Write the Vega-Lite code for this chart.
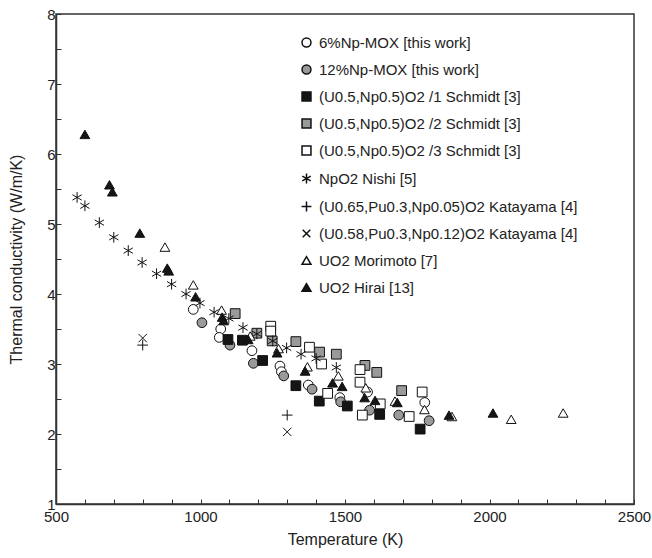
{
  "$schema": "https://vega.github.io/schema/vega-lite/v6.json",
  "width": 578,
  "height": 490,
  "autosize": {"type": "none"},
  "padding": {"left": 56, "top": 14, "right": 18, "bottom": 54},
  "background": "white",
  "config": {
    "font": "Liberation Sans",
    "view": {"stroke": "#333", "strokeWidth": 1.5},
    "axis": {"grid": false, "zindex": 1, "domainColor": "#333", "domainWidth": 1.5, "tickColor": "#333", "tickWidth": 1, "tickSize": -5, "labelColor": "#222", "titleColor": "#222", "labelFontSize": 15, "titleFontSize": 16, "titleFontWeight": "normal"}
  },
  "data": {"values": [
    {"s": "6%Np-MOX [this work]", "T": 975, "k": 3.78},
    {"s": "6%Np-MOX [this work]", "T": 1070, "k": 3.50},
    {"s": "6%Np-MOX [this work]", "T": 1065, "k": 3.38},
    {"s": "6%Np-MOX [this work]", "T": 1178, "k": 3.19},
    {"s": "6%Np-MOX [this work]", "T": 1275, "k": 2.97},
    {"s": "6%Np-MOX [this work]", "T": 1280, "k": 2.89},
    {"s": "6%Np-MOX [this work]", "T": 1373, "k": 2.70},
    {"s": "6%Np-MOX [this work]", "T": 1482, "k": 2.52},
    {"s": "6%Np-MOX [this work]", "T": 1578, "k": 2.60},
    {"s": "6%Np-MOX [this work]", "T": 1776, "k": 2.45},
    {"s": "12%Np-MOX [this work]", "T": 1005, "k": 3.59},
    {"s": "12%Np-MOX [this work]", "T": 1102, "k": 3.27},
    {"s": "12%Np-MOX [this work]", "T": 1183, "k": 3.01},
    {"s": "12%Np-MOX [this work]", "T": 1288, "k": 2.83},
    {"s": "12%Np-MOX [this work]", "T": 1386, "k": 2.64},
    {"s": "12%Np-MOX [this work]", "T": 1485, "k": 2.46},
    {"s": "12%Np-MOX [this work]", "T": 1585, "k": 2.34},
    {"s": "12%Np-MOX [this work]", "T": 1686, "k": 2.27},
    {"s": "12%Np-MOX [this work]", "T": 1791, "k": 2.19},
    {"s": "(U0.5,Np0.5)O2 /1 Schmidt [3]", "T": 1095, "k": 3.35},
    {"s": "(U0.5,Np0.5)O2 /1 Schmidt [3]", "T": 1145, "k": 3.34},
    {"s": "(U0.5,Np0.5)O2 /1 Schmidt [3]", "T": 1215, "k": 3.05},
    {"s": "(U0.5,Np0.5)O2 /1 Schmidt [3]", "T": 1330, "k": 2.69},
    {"s": "(U0.5,Np0.5)O2 /1 Schmidt [3]", "T": 1411, "k": 2.47},
    {"s": "(U0.5,Np0.5)O2 /1 Schmidt [3]", "T": 1508, "k": 2.40},
    {"s": "(U0.5,Np0.5)O2 /1 Schmidt [3]", "T": 1620, "k": 2.28},
    {"s": "(U0.5,Np0.5)O2 /1 Schmidt [3]", "T": 1760, "k": 2.07},
    {"s": "(U0.5,Np0.5)O2 /2 Schmidt [3]", "T": 1120, "k": 3.72},
    {"s": "(U0.5,Np0.5)O2 /2 Schmidt [3]", "T": 1195, "k": 3.44},
    {"s": "(U0.5,Np0.5)O2 /2 Schmidt [3]", "T": 1248, "k": 3.33},
    {"s": "(U0.5,Np0.5)O2 /2 Schmidt [3]", "T": 1330, "k": 3.32},
    {"s": "(U0.5,Np0.5)O2 /2 Schmidt [3]", "T": 1412, "k": 3.17},
    {"s": "(U0.5,Np0.5)O2 /2 Schmidt [3]", "T": 1470, "k": 3.14},
    {"s": "(U0.5,Np0.5)O2 /2 Schmidt [3]", "T": 1569, "k": 2.98},
    {"s": "(U0.5,Np0.5)O2 /2 Schmidt [3]", "T": 1610, "k": 2.88},
    {"s": "(U0.5,Np0.5)O2 /2 Schmidt [3]", "T": 1696, "k": 2.62},
    {"s": "(U0.5,Np0.5)O2 /3 Schmidt [3]", "T": 1243, "k": 3.54},
    {"s": "(U0.5,Np0.5)O2 /3 Schmidt [3]", "T": 1243, "k": 3.47},
    {"s": "(U0.5,Np0.5)O2 /3 Schmidt [3]", "T": 1377, "k": 3.24},
    {"s": "(U0.5,Np0.5)O2 /3 Schmidt [3]", "T": 1419, "k": 3.00},
    {"s": "(U0.5,Np0.5)O2 /3 Schmidt [3]", "T": 1440, "k": 2.58},
    {"s": "(U0.5,Np0.5)O2 /3 Schmidt [3]", "T": 1552, "k": 2.92},
    {"s": "(U0.5,Np0.5)O2 /3 Schmidt [3]", "T": 1552, "k": 2.74},
    {"s": "(U0.5,Np0.5)O2 /3 Schmidt [3]", "T": 1560, "k": 2.27},
    {"s": "(U0.5,Np0.5)O2 /3 Schmidt [3]", "T": 1622, "k": 2.43},
    {"s": "(U0.5,Np0.5)O2 /3 Schmidt [3]", "T": 1722, "k": 2.25},
    {"s": "(U0.5,Np0.5)O2 /3 Schmidt [3]", "T": 1767, "k": 2.60},
    {"s": "NpO2 Nishi [5]", "T": 573, "k": 5.38},
    {"s": "NpO2 Nishi [5]", "T": 600, "k": 5.26},
    {"s": "NpO2 Nishi [5]", "T": 650, "k": 5.02},
    {"s": "NpO2 Nishi [5]", "T": 700, "k": 4.81},
    {"s": "NpO2 Nishi [5]", "T": 750, "k": 4.62},
    {"s": "NpO2 Nishi [5]", "T": 798, "k": 4.45},
    {"s": "NpO2 Nishi [5]", "T": 848, "k": 4.29},
    {"s": "NpO2 Nishi [5]", "T": 900, "k": 4.14},
    {"s": "NpO2 Nishi [5]", "T": 950, "k": 4.00},
    {"s": "NpO2 Nishi [5]", "T": 998, "k": 3.87},
    {"s": "NpO2 Nishi [5]", "T": 1047, "k": 3.74},
    {"s": "NpO2 Nishi [5]", "T": 1098, "k": 3.65},
    {"s": "NpO2 Nishi [5]", "T": 1147, "k": 3.52},
    {"s": "NpO2 Nishi [5]", "T": 1195, "k": 3.43},
    {"s": "NpO2 Nishi [5]", "T": 1250, "k": 3.33},
    {"s": "NpO2 Nishi [5]", "T": 1298, "k": 3.23},
    {"s": "NpO2 Nishi [5]", "T": 1348, "k": 3.14},
    {"s": "NpO2 Nishi [5]", "T": 1400, "k": 3.08},
    {"s": "NpO2 Nishi [5]", "T": 1470, "k": 2.95},
    {"s": "(U0.65,Pu0.3,Np0.05)O2 Katayama [4]", "T": 800, "k": 3.27},
    {"s": "(U0.65,Pu0.3,Np0.05)O2 Katayama [4]", "T": 1300, "k": 2.27},
    {"s": "(U0.58,Pu0.3,Np0.12)O2 Katayama [4]", "T": 800, "k": 3.37},
    {"s": "(U0.58,Pu0.3,Np0.12)O2 Katayama [4]", "T": 1300, "k": 2.03},
    {"s": "UO2 Morimoto [7]", "T": 877, "k": 4.67},
    {"s": "UO2 Morimoto [7]", "T": 975, "k": 4.13},
    {"s": "UO2 Morimoto [7]", "T": 1073, "k": 3.77},
    {"s": "UO2 Morimoto [7]", "T": 1172, "k": 3.40},
    {"s": "UO2 Morimoto [7]", "T": 1270, "k": 3.22},
    {"s": "UO2 Morimoto [7]", "T": 1370, "k": 2.96},
    {"s": "UO2 Morimoto [7]", "T": 1477, "k": 2.83},
    {"s": "UO2 Morimoto [7]", "T": 1572, "k": 2.66},
    {"s": "UO2 Morimoto [7]", "T": 1673, "k": 2.47},
    {"s": "UO2 Morimoto [7]", "T": 1775, "k": 2.35},
    {"s": "UO2 Morimoto [7]", "T": 1870, "k": 2.25},
    {"s": "UO2 Morimoto [7]", "T": 2075, "k": 2.21},
    {"s": "UO2 Morimoto [7]", "T": 2255, "k": 2.30},
    {"s": "UO2 Hirai [13]", "T": 600, "k": 6.28},
    {"s": "UO2 Hirai [13]", "T": 685, "k": 5.56},
    {"s": "UO2 Hirai [13]", "T": 695, "k": 5.46},
    {"s": "UO2 Hirai [13]", "T": 790, "k": 4.87},
    {"s": "UO2 Hirai [13]", "T": 885, "k": 4.37},
    {"s": "UO2 Hirai [13]", "T": 890, "k": 4.33},
    {"s": "UO2 Hirai [13]", "T": 983, "k": 3.96},
    {"s": "UO2 Hirai [13]", "T": 1075, "k": 3.67},
    {"s": "UO2 Hirai [13]", "T": 1080, "k": 3.62},
    {"s": "UO2 Hirai [13]", "T": 1165, "k": 3.35},
    {"s": "UO2 Hirai [13]", "T": 1265, "k": 3.16},
    {"s": "UO2 Hirai [13]", "T": 1362, "k": 2.90},
    {"s": "UO2 Hirai [13]", "T": 1457, "k": 2.73},
    {"s": "UO2 Hirai [13]", "T": 1490, "k": 2.68},
    {"s": "UO2 Hirai [13]", "T": 1568, "k": 2.52},
    {"s": "UO2 Hirai [13]", "T": 1604, "k": 2.48},
    {"s": "UO2 Hirai [13]", "T": 1681, "k": 2.45},
    {"s": "UO2 Hirai [13]", "T": 1860, "k": 2.27},
    {"s": "UO2 Hirai [13]", "T": 2012, "k": 2.30}
  ]},
  "mark": {"type": "point", "filled": true, "stroke": "#111", "strokeWidth": 1, "size": 95, "opacity": 1},
  "encoding": {
    "x": {"field": "T", "type": "quantitative", "title": "Temperature (K)",
      "scale": {"domain": [500, 2500], "nice": false, "zero": false},
      "axis": {"values": [500,600,700,800,900,1000,1100,1200,1300,1400,1500,1600,1700,1800,1900,2000,2100,2200,2300,2400,2500],
        "labelExpr": "datum.value % 500 == 0 ? datum.label : ''", "labelOverlap": false, "labelPadding": 10, "titlePadding": 7, "format": "d", "labelFlush": false}},
    "y": {"field": "k", "type": "quantitative", "title": "Thermal conductivity (W/m/K)",
      "scale": {"domain": [1, 8], "nice": false, "zero": false},
      "axis": {"values": [1,1.5,2,2.5,3,3.5,4,4.5,5,5.5,6,6.5,7,7.5,8],
        "labelExpr": "datum.value % 1 == 0 ? format(datum.value, 'd') : ''", "labelOverlap": false, "labelPadding": 6, "titlePadding": 22, "labelFlush": false}},
    "shape": {"field": "s", "type": "nominal",
      "scale": {"domain": ["6%Np-MOX [this work]", "12%Np-MOX [this work]", "(U0.5,Np0.5)O2 /1 Schmidt [3]", "(U0.5,Np0.5)O2 /2 Schmidt [3]", "(U0.5,Np0.5)O2 /3 Schmidt [3]", "NpO2 Nishi [5]", "(U0.65,Pu0.3,Np0.05)O2 Katayama [4]", "(U0.58,Pu0.3,Np0.12)O2 Katayama [4]", "UO2 Morimoto [7]", "UO2 Hirai [13]"],
        "range": ["circle", "circle", "square", "square", "square", "M0,-1.1L0,1.1M-0.95,-0.55L0.95,0.55M-0.95,0.55L0.95,-0.55", "M-1.1,0L1.1,0M0,-1.1L0,1.1", "M-0.85,-0.85L0.85,0.85M-0.85,0.85L0.85,-0.85", "triangle-up", "triangle-up"]},
      "legend": {"title": null, "orient": "none", "legendX": 243, "legendY": 21, "labelFontSize": 15, "labelColor": "#222", "symbolSize": 80, "rowPadding": 11, "labelOffset": 5, "padding": 0, "labelLimit": 400,
        "encode": {"symbols": {"update": {"stroke": {"value": "#111"}, "strokeWidth": {"value": 1}}}}}},
    "fill": {"field": "s", "type": "nominal",
      "scale": {"domain": ["6%Np-MOX [this work]", "12%Np-MOX [this work]", "(U0.5,Np0.5)O2 /1 Schmidt [3]", "(U0.5,Np0.5)O2 /2 Schmidt [3]", "(U0.5,Np0.5)O2 /3 Schmidt [3]", "NpO2 Nishi [5]", "(U0.65,Pu0.3,Np0.05)O2 Katayama [4]", "(U0.58,Pu0.3,Np0.12)O2 Katayama [4]", "UO2 Morimoto [7]", "UO2 Hirai [13]"],
        "range": ["white", "#9a9a9a", "#151515", "#9a9a9a", "white", "transparent", "transparent", "transparent", "white", "#151515"]},
      "legend": {"title": null, "orient": "none", "legendX": 243, "legendY": 21, "labelFontSize": 15, "labelColor": "#222", "symbolSize": 80, "rowPadding": 11, "labelOffset": 5, "padding": 0, "labelLimit": 400,
        "encode": {"symbols": {"update": {"stroke": {"value": "#111"}, "strokeWidth": {"value": 1}}}}}}
  }
}
